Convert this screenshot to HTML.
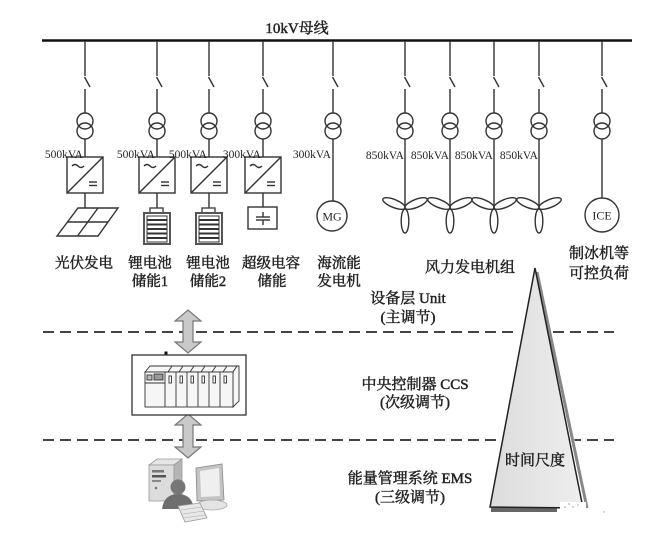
<!DOCTYPE html>
<html><head><meta charset="utf-8"><style>
html,body{margin:0;padding:0;background:#fff;}
svg{display:block;}
text{font-family:"Liberation Serif","Noto Serif CJK SC",serif;fill:#222;}
.cj{stroke:#222;stroke-width:0.45;}
</style></head><body>
<svg width="670" height="540" viewBox="0 0 670 540" xmlns="http://www.w3.org/2000/svg">
<rect width="670" height="540" fill="#fff"/>
<!-- bus -->
<line x1="42" y1="40.5" x2="632" y2="40.5" stroke="#111" stroke-width="2.6"/>
<text x="297" y="33" font-size="15" text-anchor="middle" class="cj">10kV母线</text>

<g stroke="#333" stroke-width="1.4" fill="none">
  <g id="d1">
    <line x1="85" y1="41" x2="85" y2="76"/>
    <line x1="84.5" y1="77" x2="90" y2="87"/>
    <line x1="85" y1="89" x2="85" y2="113"/>
    <circle cx="85" cy="121" r="8"/>
    <circle cx="85" cy="131" r="8"/>
  </g>
  <use href="#d1" x="72"/>
  <use href="#d1" x="124"/>
  <use href="#d1" x="178"/>
  <use href="#d1" x="248"/>
  <use href="#d1" x="320"/>
  <use href="#d1" x="365"/>
  <use href="#d1" x="409"/>
  <use href="#d1" x="454"/>
  <use href="#d1" x="517"/>

  <line x1="85" y1="139" x2="85" y2="157"/>
  <line x1="157" y1="139" x2="157" y2="157"/>
  <line x1="209" y1="139" x2="209" y2="157"/>
  <line x1="263" y1="139" x2="263" y2="157"/>
  <line x1="333" y1="139" x2="333" y2="201"/>
  <line x1="405" y1="139" x2="405" y2="208"/>
  <line x1="450" y1="139" x2="450" y2="208"/>
  <line x1="494" y1="139" x2="494" y2="208"/>
  <line x1="539" y1="139" x2="539" y2="208"/>
  <line x1="602" y1="139" x2="602" y2="198"/>

  <g id="bx">
    <rect x="67" y="157" width="36" height="36"/>
    <line x1="67" y1="193" x2="103" y2="157"/>
    <path d="M72 166 q3 -3 6 0 q3 3 6 0"/>
    <line x1="89" y1="182" x2="97" y2="182"/>
    <line x1="89" y1="185.5" x2="97" y2="185.5"/>
  </g>
  <use href="#bx" x="72"/>
  <use href="#bx" x="124"/>
  <use href="#bx" x="178"/>

  <line x1="85" y1="193" x2="85" y2="208"/>
  <line x1="157" y1="193" x2="157" y2="208"/>
  <line x1="209" y1="193" x2="209" y2="208"/>
  <line x1="263" y1="193" x2="263" y2="207"/>

  <polygon points="78,208 118,208 98,236 57,236"/>
  <line x1="67.5" y1="222" x2="108" y2="222"/>
  <line x1="98" y1="208" x2="77.5" y2="236"/>

  <rect x="248" y="207" width="29" height="22"/>
  <line x1="263" y1="212" x2="263" y2="217"/>
  <line x1="256" y1="217" x2="270" y2="217"/>
  <line x1="256" y1="220" x2="270" y2="220"/>
  <line x1="263" y1="220" x2="263" y2="225"/>

  <circle cx="332" cy="216" r="15"/>
  <circle cx="602" cy="215" r="17"/>

  <g id="wt">
    <ellipse cx="394" cy="203.5" rx="12" ry="4" transform="rotate(22 394 203.5)"/>
    <ellipse cx="416" cy="203.5" rx="12" ry="4" transform="rotate(-22 416 203.5)"/>
    <ellipse cx="405" cy="221" rx="3.8" ry="12"/>
  </g>
  <use href="#wt" x="45"/>
  <use href="#wt" x="89"/>
  <use href="#wt" x="134"/>
</g>

<g id="bat">
  <rect x="150" y="208" width="13" height="5" fill="#fff" stroke="#444" stroke-width="1.4"/>
  <rect x="144" y="213" width="26" height="31" fill="#fff" stroke="#555" stroke-width="2"/>
  <g fill="#fff" stroke="#333" stroke-width="1">
    <rect x="147" y="216" width="20" height="3.5"/>
    <rect x="147" y="220.5" width="20" height="3.5"/>
    <rect x="147" y="225" width="20" height="3.5"/>
    <rect x="147" y="229.5" width="20" height="3.5"/>
    <rect x="147" y="234" width="20" height="3.5"/>
    <rect x="147" y="238.5" width="20" height="3.5"/>
  </g>
</g>
<use href="#bat" x="52"/>

<text x="332" y="220.5" font-size="12" text-anchor="middle">MG</text>
<text x="602" y="219.5" font-size="12" text-anchor="middle">ICE</text>

<g font-size="11.5" text-anchor="end">
  <text x="83" y="158">500kVA</text>
  <text x="155" y="158">500kVA</text>
  <text x="207" y="158">500kVA</text>
  <text x="261" y="158">300kVA</text>
  <text x="331" y="158">300kVA</text>
  <text x="404" y="159">850kVA</text>
  <text x="449" y="159">850kVA</text>
  <text x="493" y="159">850kVA</text>
  <text x="538" y="159">850kVA</text>
</g>

<g font-size="14.5" text-anchor="middle" class="cj">
  <text x="84" y="268">光伏发电</text>
  <text x="150" y="268">锂电池</text>
  <text x="150" y="286">储能1</text>
  <text x="208" y="268">锂电池</text>
  <text x="208" y="286">储能2</text>
  <text x="271" y="268">超级电容</text>
  <text x="272" y="286">储能</text>
  <text x="339" y="268">海流能</text>
  <text x="339" y="286">发电机</text>
  <text x="470" y="272" font-size="15">风力发电机组</text>
  <text x="599" y="258" font-size="15">制冰机等</text>
  <text x="599" y="278" font-size="15">可控负荷</text>
</g>

<g stroke="#444" stroke-width="2" stroke-dasharray="11,6">
  <line x1="43" y1="332" x2="614" y2="332"/>
  <line x1="43" y1="440" x2="614" y2="440"/>
</g>

<defs>
  <linearGradient id="tg" x1="0" y1="0" x2="1" y2="0">
    <stop offset="0" stop-color="#dcdcdc"/>
    <stop offset="1" stop-color="#eeeeee"/>
  </linearGradient>
</defs>
<polygon points="535,268 490,507 583,508" fill="#fff" stroke="#fff" stroke-width="10"/>
<rect x="491" y="507" width="66" height="5" fill="#666"/>
<line x1="537" y1="272" x2="587" y2="508" stroke="#888" stroke-width="3"/>
<polygon points="535,268 490,507 583,508" fill="url(#tg)" stroke="#222" stroke-width="1.5"/>
<rect x="560" y="502" width="26" height="9" fill="#fff"/>
<g fill="#999"><circle cx="565" cy="507" r="0.8"/><circle cx="569" cy="504" r="0.8"/><circle cx="573" cy="507" r="0.8"/><circle cx="578" cy="505" r="0.7"/><circle cx="604" cy="512" r="0.7"/></g>
<text x="535" y="465" font-size="15" text-anchor="middle" class="cj">时间尺度</text>

<g font-size="15" text-anchor="middle" class="cj">
  <text x="408" y="303">设备层 Unit</text>
  <text x="408" y="322">(主调节)</text>
  <text x="415" y="389">中央控制器 CCS</text>
  <text x="415" y="407">(次级调节)</text>
  <text x="410" y="483">能量管理系统 EMS</text>
  <text x="410" y="502">(三级调节)</text>
</g>

<g fill="#c9c9c9" stroke="#777" stroke-width="1.2">
  <path d="M188,310 L201,321 L193,321 L193,342 L201,342 L188,353 L175,342 L183,342 L183,321 L175,321 Z"/>
  <path d="M188,414 L201,425 L193,425 L193,447 L201,447 L188,458 L175,447 L183,447 L183,425 L175,425 Z"/>
</g>

<rect x="132" y="355" width="114" height="60" fill="#fff" stroke="#333" stroke-width="1.3"/>
<rect x="164.5" y="351.5" width="3" height="3" fill="#111"/>
<g stroke="#333" stroke-width="0.9" fill="#f6f6f6">
  <polygon points="145,372 150,366 237,366 233,372"/>
  <polygon points="233,372 237,366 239,366 239,401 233,407"/>
  <rect x="145" y="372" width="88" height="35"/>
  <line x1="145" y1="383" x2="165" y2="383"/>
  <line x1="165" y1="372" x2="165" y2="407"/>
  <line x1="176" y1="372" x2="176" y2="407"/>
  <line x1="187" y1="372" x2="187" y2="407"/>
  <line x1="198" y1="372" x2="198" y2="407"/>
  <line x1="209" y1="372" x2="209" y2="407"/>
  <line x1="220" y1="372" x2="220" y2="407"/>
  <line x1="168" y1="372" x2="172" y2="366"/>
  <line x1="179" y1="372" x2="183" y2="366"/>
  <line x1="190" y1="372" x2="194" y2="366"/>
  <line x1="201" y1="372" x2="205" y2="366"/>
  <line x1="212" y1="372" x2="216" y2="366"/>
  <line x1="223" y1="372" x2="227" y2="366"/>
  <rect x="169" y="376" width="2.5" height="7" fill="#fff"/>
  <rect x="180" y="376" width="2.5" height="7" fill="#fff"/>
  <rect x="191" y="376" width="2.5" height="7" fill="#fff"/>
  <rect x="202" y="376" width="2.5" height="7" fill="#fff"/>
  <rect x="213" y="376" width="2.5" height="7" fill="#fff"/>
  <rect x="224" y="376" width="2.5" height="7" fill="#fff"/>
  <rect x="147" y="375" width="5" height="5" fill="#bbb"/>
  <rect x="154" y="374" width="9" height="6" fill="#999"/>
</g>

<g>
  <polygon points="149,465 157,459 182,459 174,465" fill="#e6e6e6" stroke="#999" stroke-width="0.8"/>
  <polygon points="149,465 174,465 174,501 149,501" fill="#dcdcdc" stroke="#999" stroke-width="0.8"/>
  <polygon points="174,465 182,459 182,495 174,501" fill="#b5b5b5" stroke="#999" stroke-width="0.8"/>
  <rect x="152" y="470" width="12" height="2.5" fill="#777"/>
  <rect x="152" y="475" width="14" height="2.5" fill="#555"/>
  <rect x="152" y="480" width="9" height="2" fill="#888"/>
  <circle cx="156" cy="488" r="1.3" fill="#777"/>
  <polygon points="196,468 222,464 224,500 197,501" fill="#c4c4c4" stroke="#888" stroke-width="0.8"/>
  <polygon points="200,471 219,468 220,496 201,497" fill="#efefef"/>
  <ellipse cx="212" cy="505" rx="15" ry="5" fill="#e4e4e4" stroke="#aaa" stroke-width="0.8"/>
  <path d="M162,509 Q164,494 178,494 Q192,494 194,509 Z" fill="#6e6e6e"/>
  <circle cx="178" cy="487" r="7.5" fill="#777"/>
  <polygon points="178,506 200,503 207,518 185,522" fill="#e8e8e8" stroke="#999" stroke-width="0.8"/>
  <g stroke="#aaa" stroke-width="0.6">
    <line x1="181" y1="510" x2="202" y2="507"/>
    <line x1="183" y1="514" x2="204" y2="511"/>
    <line x1="184" y1="518" x2="205" y2="515"/>
  </g>
</g>
</svg>
</body></html>
